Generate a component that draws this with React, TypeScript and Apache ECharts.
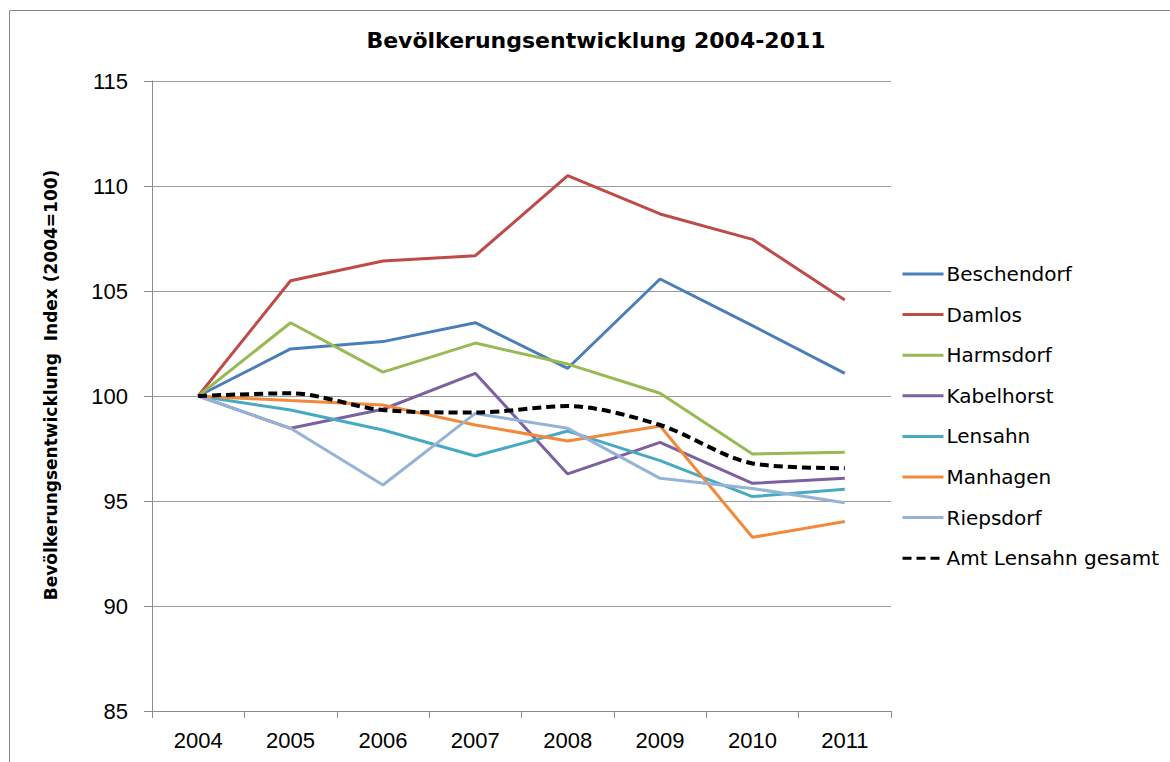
import React, { useEffect, useRef } from "react";
import * as echarts from "echarts";

const years = ["2004", "2005", "2006", "2007", "2008", "2009", "2010", "2011"];

const beschendorf = [100, 102.24, 102.59, 103.49, 101.32, 105.57, 103.35, 101.08];
const damlos = [100, 105.49, 106.43, 106.68, 110.49, 108.67, 107.46, 104.57];
const harmsdorf = [100, 103.49, 101.14, 102.52, 101.52, 100.13, 97.24, 97.32];
const kabelhorst = [100, 98.46, 99.37, 101.08, 96.29, 97.79, 95.84, 96.08];
const lensahn = [100, 99.33, 98.38, 97.14, 98.33, 96.92, 95.21, 95.56];
const manhagen = [100, 99.78, 99.57, 98.62, 97.86, 98.57, 93.27, 94.02];
const riepsdorf = [100, 98.46, 95.76, 99.17, 98.46, 96.08, 95.6, 94.92];
const amtGesamt = [100, 100.13, 99.33, 99.21, 99.52, 98.62, 96.79, 96.56];

const seriesNames = [
  "Beschendorf",
  "Damlos",
  "Harmsdorf",
  "Kabelhorst",
  "Lensahn",
  "Manhagen",
  "Riepsdorf",
  "Amt Lensahn gesamt",
];
const seriesData = [beschendorf, damlos, harmsdorf, kabelhorst, lensahn, manhagen, riepsdorf, amtGesamt];
const seriesColors = ["#4A7EBB", "#BE4B48", "#98B954", "#7D60A0", "#46AAC5", "#F08A3A", "#95B3D7", "#000000"];

const titleText = "Bevölkerungsentwicklung 2004-2011";
const yAxisTitle = "Bevölkerungsentwicklung  Index (2004=100)";

export default function App() {
  const ref = useRef<HTMLDivElement>(null);

  useEffect(() => {
    if (!ref.current) return;
    const chart = echarts.init(ref.current, null, { renderer: "svg" });
    const series = seriesNames.map((name, i) => {
      const isTotal = i === seriesNames.length - 1;
      return {
        name,
        type: "line",
        data: seriesData[i],
        symbol: "none",
        smooth: isTotal ? 0.3 : false,
        z: isTotal ? 5 : 2,
        lineStyle: {
          color: seriesColors[i],
          width: isTotal ? 4 : 3,
          type: isTotal ? [9, 5] : "solid",
        },
        itemStyle: { color: seriesColors[i] },
      };
    });
    chart.setOption({
      animation: false,
      backgroundColor: "#ffffff",
      title: {
        text: titleText,
        left: 591,
        textAlign: "center",
        top: 24,
        textStyle: {
          fontFamily: "DejaVu Sans",
          fontWeight: "bold",
          fontSize: 22,
          color: "#000",
        },
      },
      grid: { left: 152, right: 279, top: 81, bottom: 51 },
      legend: {
        orient: "vertical",
        left: 896,
        top: 257,
        itemWidth: 41,
        itemHeight: 14,
        itemGap: 16.6,
        data: seriesNames,
        itemStyle: { opacity: 0 },
        lineStyle: { width: 3 },
        textStyle: {
          fontFamily: "DejaVu Sans",
          fontSize: 20,
          color: "#000",
          lineHeight: 24,
          padding: [0, 0, 0, -2],
        },
      },
      xAxis: {
        type: "category",
        data: years,
        boundaryGap: true,
        axisLine: { lineStyle: { color: "#8c8c8c", width: 1 } },
        axisTick: { show: true, length: 7, lineStyle: { color: "#8c8c8c" } },
        axisLabel: {
          margin: 18,
          fontFamily: "Liberation Sans",
          fontSize: 22,
          color: "#000",
        },
        splitLine: { show: false },
      },
      yAxis: {
        type: "value",
        min: 85,
        max: 115,
        interval: 5,
        axisLine: { show: true, lineStyle: { color: "#8c8c8c", width: 1 } },
        axisTick: { show: true, length: 8, lineStyle: { color: "#8c8c8c" } },
        axisLabel: {
          margin: 24,
          fontFamily: "Liberation Sans",
          fontSize: 22,
          color: "#000",
        },
        splitLine: { show: true, lineStyle: { color: "#9a9a9a", width: 1 } },
      },
      graphic: [
        {
          type: "rect",
          silent: true,
          shape: { x: 9.5, y: 10.5, width: 1200, height: 800 },
          style: { fill: "none", stroke: "#868686", lineWidth: 1 },
        },
        {
          type: "text",
          x: 51,
          y: 385,
          rotation: Math.PI / 2,
          style: {
            text: yAxisTitle,
            align: "center",
            verticalAlign: "middle",
            fontFamily: "DejaVu Sans",
            fontWeight: "bold",
            fontSize: 17,
            fill: "#000",
          },
        },
      ],
      series,
    });
    return () => chart.dispose();
  }, []);

  return (
    <div
      ref={ref}
      style={{ position: "fixed", left: 0, top: 0, width: 1170, height: 762, background: "#fff" }}
    />
  );
}
